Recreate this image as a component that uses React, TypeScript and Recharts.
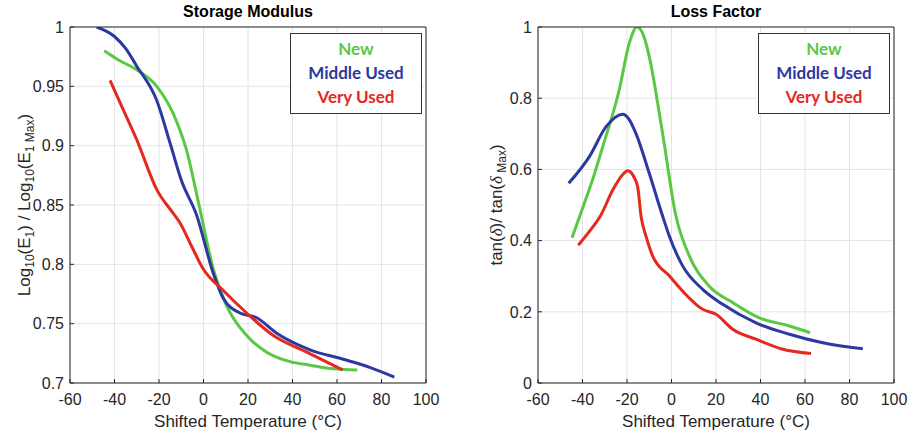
import { LineChart, Line, XAxis, YAxis, CartesianGrid } from "recharts";

// colours
const GREEN = "#5ac845";
const BLUE = "#2b39a0";
const RED = "#e5291e";
const AXIS = "#262626";
const GRID = "#e4e4e4";

const tempTicks = [-60, -40, -20, 0, 20, 40, 60, 80, 100];
const storageTicks = [0.7, 0.75, 0.8, 0.85, 0.9, 0.95, 1];
const lossTicks = [0, 0.2, 0.4, 0.6, 0.8, 1];

// Storage modulus, normalised
const smNewT = [-44.6, -38, -30, -21, -13.6, -7.6, -1.9, 4.4, 10.4, 19.4, 28.4, 38.9, 48, 58.4, 69.1];
const smNewY = [0.98, 0.972, 0.964, 0.95, 0.927, 0.896, 0.849, 0.796, 0.765, 0.74, 0.726, 0.718, 0.715, 0.712, 0.711];

const smMidT = [-48, -40, -35, -30, -21, -15, -10, -3, 4.3, 9, 16.4, 23.9, 32.9, 47.9, 62.8, 75, 85.8];
const smMidY = [1.0, 0.992, 0.982, 0.967, 0.938, 0.902, 0.871, 0.841, 0.793, 0.771, 0.759, 0.755, 0.742, 0.728, 0.72, 0.713, 0.705];

const smVeryT = [-42, -36, -30, -21, -13.6, -10.6, -5.3, -0.1, 8.9, 19.4, 31.4, 46.4, 62.5];
const smVeryY = [0.955, 0.93, 0.905, 0.863, 0.843, 0.835, 0.815, 0.796, 0.778, 0.759, 0.74, 0.726, 0.711];

// Loss factor, normalised
const lfNewT = [-44.7, -40, -35, -30.9, -23.5, -19, -15.5, -12.5, -10, -4, 2, 8, 17, 27.5, 39.5, 53, 62.3];
const lfNewY = [0.408, 0.49, 0.58, 0.664, 0.823, 0.954, 1.0, 0.975, 0.917, 0.701, 0.469, 0.357, 0.272, 0.226, 0.183, 0.16, 0.141];

const lfMidT = [-46.2, -36.9, -29.4, -21.9, -19, -16, -10, -4, -1, 5, 14, 23, 38, 53, 68, 86];
const lfMidY = [0.561, 0.636, 0.72, 0.755, 0.74, 0.701, 0.589, 0.469, 0.413, 0.329, 0.263, 0.221, 0.169, 0.137, 0.113, 0.096];

const lfVeryT = [-41.9, -37, -31.7, -26.4, -22, -19.7, -17, -15.2, -13.7, -11.5, -8.5, -1, 5, 14, 20, 27.5, 38, 50, 62.7];
const lfVeryY = [0.387, 0.425, 0.472, 0.542, 0.585, 0.596, 0.58, 0.551, 0.469, 0.413, 0.357, 0.301, 0.258, 0.207, 0.193, 0.151, 0.123, 0.095, 0.083];

const pts = (t: number[], v: number[]) => t.map((x, i) => ({ t: x, v: v[i] }));

const XTick = ({ x, y, payload }: any) => (
  <g>
    <line x1={x} x2={x} y1={y - 10} y2={y - 14} stroke={AXIS} />
    <text x={x} y={y} dy="0.75em" textAnchor="middle" fill={AXIS} fontSize={16}>
      {payload.value}
    </text>
  </g>
);

const YTick = ({ x, y, payload }: any) => (
  <g>
    <line x1={x + 6} x2={x + 10} y1={y} y2={y} stroke={AXIS} />
    <text x={x} y={y} dy="0.36em" textAnchor="end" fill={AXIS} fontSize={16}>
      {String(payload.value)}
    </text>
  </g>
);

const StorageLabel = ({ cx, cy }: { cx: number; cy: number }) => (
  <text x={cx} y={cy} transform={`rotate(-90 ${cx} ${cy})`} textAnchor="middle" fill={AXIS} fontSize={17}>
    Log<tspan fontSize={12} dy={4}>10</tspan>
    <tspan dy={-4}>(E</tspan>
    <tspan fontSize={12} dy={4}>1</tspan>
    <tspan dy={-4}>{") / Log"}</tspan>
    <tspan fontSize={12} dy={4}>10</tspan>
    <tspan dy={-4}>(E</tspan>
    <tspan fontSize={12} dy={4}>{"1 Max"}</tspan>
    <tspan dy={-4}>)</tspan>
  </text>
);

const LossLabel = ({ cx, cy }: { cx: number; cy: number }) => (
  <text x={cx} y={cy} transform={`rotate(-90 ${cx} ${cy})`} textAnchor="middle" fill={AXIS} fontSize={17}>
    tan(<tspan fontFamily="Liberation Serif" fontStyle="italic">δ</tspan>
    <tspan>{")/ tan("}</tspan>
    <tspan fontFamily="Liberation Serif" fontStyle="italic">δ</tspan>
    <tspan fontSize={12} dy={4}>{" Max"}</tspan>
    <tspan dy={-4}>)</tspan>
  </text>
);

type Series = { data: { t: number; v: number }[]; color: string };

function Panel(props: {
  title: string;
  series: Series[];
  yTicks: number[];
  yDomain: [number, number];
  marginLeft: number;
  marginRight: number;
  labelX: number;
  yLabel: "storage" | "loss";
}) {
  const { title, series, yTicks, yDomain, marginLeft, marginRight, labelX, yLabel } = props;
  const plotLeft = marginLeft + 40;
  const plotRight = 456 - marginRight;
  return (
    <div style={{ position: "relative", width: 456, height: 432 }}>
      <LineChart width={456} height={432} margin={{ top: 27, right: marginRight, bottom: 19, left: marginLeft }}>
        <CartesianGrid stroke={GRID} />
        <XAxis
          dataKey="t"
          type="number"
          domain={[-60, 100]}
          ticks={tempTicks}
          allowDataOverflow
          height={30}
          stroke={AXIS}
          tickLine={false}
          tickSize={0}
          tickMargin={10}
          tick={<XTick />}
          label={{
            content: (p: any) => (
              <text
                x={p.viewBox.x + p.viewBox.width / 2}
                y={p.viewBox.y + 44}
                textAnchor="middle"
                fill={AXIS}
                fontSize={17}
              >
                Shifted Temperature (°C)
              </text>
            ),
          }}
        />
        <XAxis
          xAxisId="top"
          orientation="top"
          type="number"
          domain={[-60, 100]}
          ticks={tempTicks}
          mirror
          height={1}
          stroke={AXIS}
          tick={false}
          tickSize={4}
        />
        <YAxis
          type="number"
          domain={yDomain}
          ticks={yTicks}
          allowDataOverflow
          width={40}
          stroke={AXIS}
          tickLine={false}
          tickSize={0}
          tickMargin={6}
          tick={<YTick />}
          label={{
            content: (p: any) =>
              yLabel === "storage" ? (
                <StorageLabel cx={labelX} cy={p.viewBox.y + p.viewBox.height / 2} />
              ) : (
                <LossLabel cx={labelX} cy={p.viewBox.y + p.viewBox.height / 2} />
              ),
          }}
        />
        <YAxis
          yAxisId="r"
          orientation="right"
          type="number"
          domain={yDomain}
          ticks={yTicks}
          mirror
          width={1}
          stroke={AXIS}
          tick={false}
          tickSize={4}
        />
        {series.map((s, i) => (
          <Line
            key={i}
            data={s.data}
            dataKey="v"
            type="monotone"
            stroke={s.color}
            strokeWidth={3}
            dot={false}
            isAnimationActive={false}
          />
        ))}
      </LineChart>
      <div
        style={{
          position: "absolute",
          left: plotLeft,
          width: plotRight - plotLeft,
          top: 3,
          textAlign: "center",
          fontWeight: "bold",
          fontSize: 16,
          color: "#000",
        }}
      >
        {title}
      </div>
      <div
        style={{
          position: "absolute",
          left: plotRight - 136,
          top: 33,
          width: 132,
          height: 81,
          boxSizing: "border-box",
          border: "1px solid #333",
          background: "#fff",
          textAlign: "center",
          fontFamily: "Lato",
          fontWeight: "bold",
          fontSize: 17,
          lineHeight: "24px",
          paddingTop: 3,
        }}
      >
        <div style={{ color: GREEN }}>New</div>
        <div style={{ color: BLUE }}>Middle Used</div>
        <div style={{ color: RED }}>Very Used</div>
      </div>
    </div>
  );
}

export default function App() {
  const storage: Series[] = [
    { data: pts(smNewT, smNewY), color: GREEN },
    { data: pts(smMidT, smMidY), color: BLUE },
    { data: pts(smVeryT, smVeryY), color: RED },
  ];
  const loss: Series[] = [
    { data: pts(lfNewT, lfNewY), color: GREEN },
    { data: pts(lfMidT, lfMidY), color: BLUE },
    { data: pts(lfVeryT, lfVeryY), color: RED },
  ];
  return (
    <div
      style={{
        position: "absolute",
        left: 0,
        top: 0,
        width: 912,
        height: 432,
        display: "flex",
        background: "#fff",
        fontFamily: "'Liberation Sans', Arial, sans-serif",
      }}
    >
      <Panel
        title="Storage Modulus"
        series={storage}
        yTicks={storageTicks}
        yDomain={[0.7, 1]}
        marginLeft={30}
        marginRight={30}
        labelX={30}
        yLabel="storage"
      />
      <Panel
        title="Loss Factor"
        series={loss}
        yTicks={lossTicks}
        yDomain={[0, 1]}
        marginLeft={42}
        marginRight={18}
        labelX={46}
        yLabel="loss"
      />
    </div>
  );
}
